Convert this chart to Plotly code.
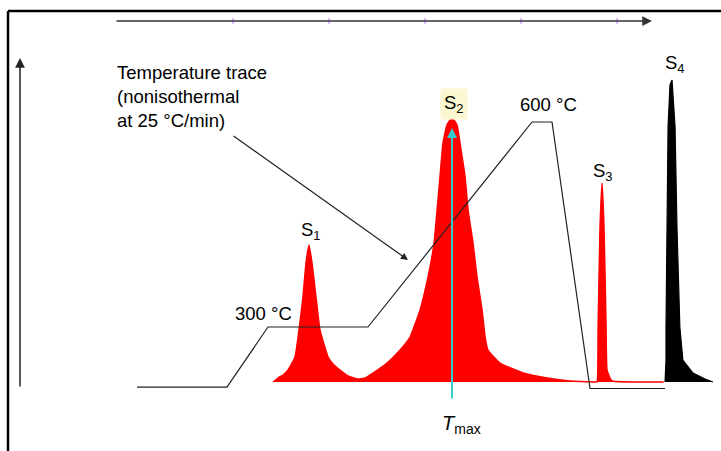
import plotly.graph_objects as go

# ---- data (time in min, signal in arbitrary units, temperature in °C) ----
s1_t = [9.92, 10.28, 10.65, 11.01, 11.52, 11.81, 12.10, 12.32, 12.54, 12.76, 13.05, 13.34, 13.93,
        14.29, 14.80, 15.39, 16.11]
s1_y = [0, 4, 7, 12, 25, 52, 85, 119, 137, 119, 85, 52, 25, 18, 12, 6, 3]

s2_t = [16.63, 17.21, 18.23, 19.18, 19.91, 20.64, 21.22, 21.66, 21.88, 22.09, 22.31, 22.60, 22.97,
        23.33, 23.55, 23.92, 24.14, 24.50, 24.79, 25.16, 25.38, 25.59, 26.47, 28.15, 29.90, 31.57, 33.40]
s2_y = [4, 9, 19, 32, 45, 72, 105, 139, 172, 205, 239, 257, 264,
        257, 239, 205, 172, 139, 105, 72, 45, 32, 19, 9, 4, 1, 0]

s3_t = [33.54, 33.62, 33.76, 33.91, 34.05, 34.20, 34.27, 34.49, 34.64, 38.40]
s3_y = [0, 55, 155, 199, 155, 55, 12, 4, 1, 0]

s4_t = [38.50, 38.57, 38.57, 38.64, 38.72, 38.86, 39.01, 39.23, 39.37, 39.58, 39.80, 40.54, 41.42, 41.99]
s4_y = [0, 22, 55, 155, 255, 297, 302, 255, 155, 55, 22, 9, 3, 0]

temp_t = [0.0, 6.56, 9.55, 16.84, 28.80, 30.26, 33.03, 38.50]
temp_c = [212, 212, 300, 300, 600, 600, 210, 210]

time_ticks = [7, 14, 21, 28, 35]
tmax_t = 22.97

labels = ["S<sub>1</sub>", "S<sub>2</sub>", "S<sub>3</sub>", "S<sub>4</sub>"]
label_t = [12.69, 23.12, 33.98, 39.23]
label_y = [151, 278, 210, 318]

FONT = "Liberation Sans, Arial, sans-serif"
FS = 18.5

fig = go.Figure()

red_t = s1_t + s2_t + s3_t
red_y = s1_y + s2_y + s3_y
fig.add_trace(go.Scatter(x=red_t, y=red_y, mode="lines", fill="tozeroy",
                         line=dict(color="#ff0000", width=1.5, shape="spline", smoothing=0.4),
                         fillcolor="#ff0000", hoverinfo="skip"))
fig.add_trace(go.Scatter(x=s4_t, y=s4_y, mode="lines", fill="tozeroy",
                         line=dict(color="#000000", width=1.2), fillcolor="#000000",
                         hoverinfo="skip"))
fig.add_trace(go.Scatter(x=temp_t, y=temp_c, mode="lines", yaxis="y2",
                         line=dict(color="#222222", width=1.2), hoverinfo="skip"))
# tick marks on the time arrow
fig.add_trace(go.Scatter(x=time_ticks, y=[361] * len(time_ticks), mode="markers",
                         marker=dict(symbol="line-ns-open", size=4,
                                     line=dict(color="#444444", width=1)),
                         hoverinfo="skip"))

ann = []
# time arrow (top)
ann.append(dict(x=37.55, y=361, ax=-1.60, ay=361, xref="x", yref="y", axref="x", ayref="y",
                showarrow=True, arrowhead=2, arrowsize=1.3, arrowwidth=1.5,
                arrowcolor="#333333", text=""))
# signal arrow (left)
ann.append(dict(x=-8.53, y=324, ax=-8.53, ay=-6, xref="x", yref="y", axref="x", ayref="y",
                showarrow=True, arrowhead=2, arrowsize=1.3, arrowwidth=1.5,
                arrowcolor="#222222", text=""))
# pointer to the temperature trace
ann.append(dict(x=19.76, y=122, ax=6.93, ay=247, xref="x", yref="y", axref="x", ayref="y",
                showarrow=True, arrowhead=2, arrowsize=1.2, arrowwidth=1.2,
                arrowcolor="#222222", text=""))
# Tmax line
ann.append(dict(x=tmax_t, y=254, ax=tmax_t, ay=-18, xref="x", yref="y", axref="x", ayref="y",
                showarrow=True, arrowhead=2, arrowsize=1.0, arrowwidth=2,
                arrowcolor="#33cccc", text=""))

ann.append(dict(x=-1.60, y=286, xref="x", yref="y", showarrow=False, xanchor="left", yanchor="middle",
                align="left", text="Temperature trace<br>(nonisothermal<br>at 25 °C/min)",
                font=dict(family=FONT, size=FS, color="black")))
for txt, tx, ty in zip(labels, label_t, label_y):
    extra = {}
    if txt == "S<sub>2</sub>":
        extra = dict(bgcolor="#fbf7d0", borderpad=3)
    ann.append(dict(x=tx, y=ty, xref="x", yref="y", showarrow=False, text=txt,
                    font=dict(family=FONT, size=FS, color="black"), **extra))
ann.append(dict(x=9.19, y=69, xref="x", yref="y", showarrow=False, text="300 °C",
                font=dict(family=FONT, size=FS, color="black")))
ann.append(dict(x=29.97, y=278, xref="x", yref="y", showarrow=False, text="600 °C",
                font=dict(family=FONT, size=FS, color="black")))
ann.append(dict(x=23.63, y=-42, xref="x", yref="y", showarrow=False, text="<i>T</i><sub>max</sub>",
                font=dict(family=FONT, size=20, color="black")))

W, H = 721, 451
shapes = [
    dict(type="line", xref="paper", yref="paper", x0=8 / W, x1=8 / W, y0=1 - 11 / H, y1=-0.05,
         line=dict(color="black", width=2.5)),
    dict(type="line", xref="paper", yref="paper", x0=8 / W, x1=1.05, y0=1 - 11 / H, y1=1 - 11 / H,
         line=dict(color="black", width=2.5)),
]

fig.update_layout(
    width=W, height=H, margin=dict(l=0, r=0, t=0, b=0),
    paper_bgcolor="white", plot_bgcolor="white", showlegend=False,
    xaxis=dict(range=[-9.99, 42.58], visible=False, fixedrange=True),
    yaxis=dict(range=[-69, 382], visible=False, fixedrange=True),
    yaxis2=dict(range=[118.54, 778.54], overlaying="y", visible=False, fixedrange=True),
    annotations=ann, shapes=shapes,
)

fig.write_html("out.html")
